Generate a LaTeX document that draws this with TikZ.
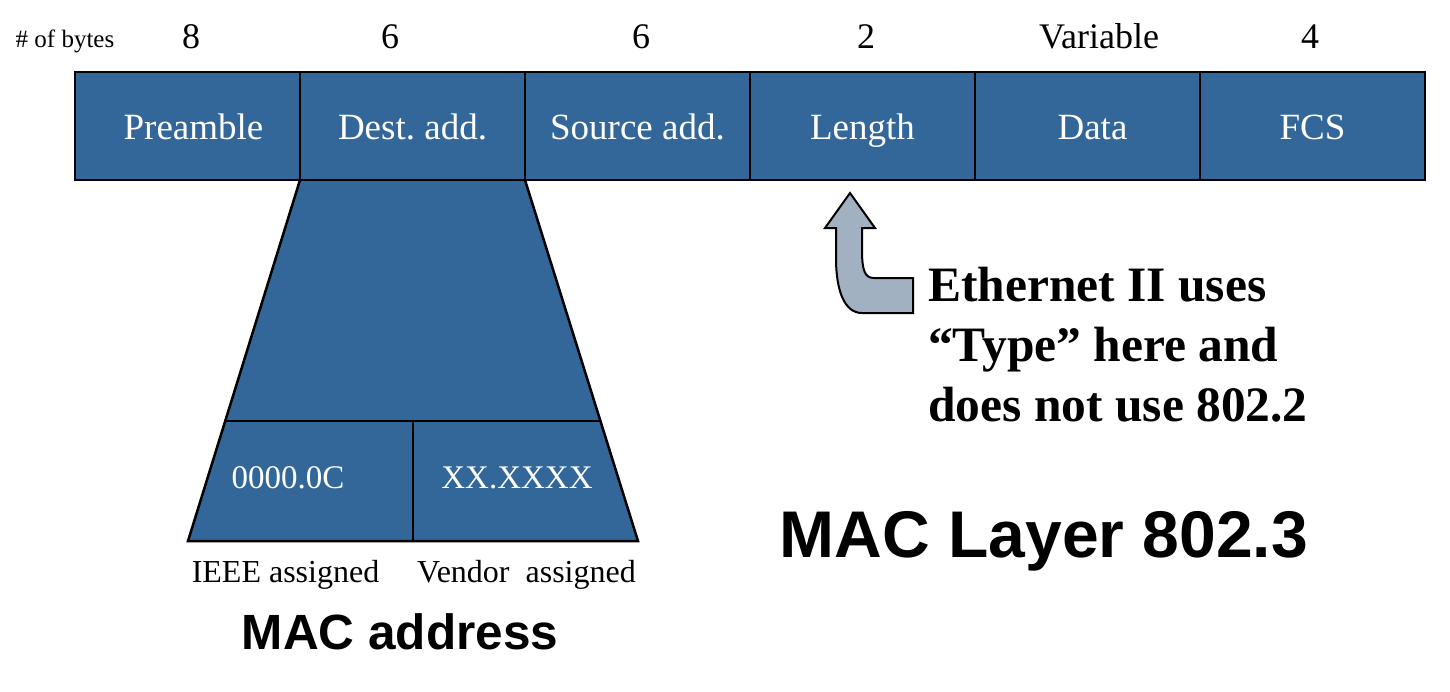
\documentclass[tikz,border=0pt]{standalone}
\usepackage{fontspec}
\setmainfont{Liberation Serif}
\newfontfamily\arialfont{Liberation Sans}
\frenchspacing
\definecolor{fieldblue}{RGB}{51,102,153}
\definecolor{arrowgrey}{RGB}{161,177,194}
\tikzset{
  field/.style={draw=black, line width=2.5pt, fill=fieldblue, text=white,
    minimum width=225pt, minimum height=108pt, inner sep=0pt,
    text height=30pt, text depth=4pt,
    font=\fontsize{37}{44}\selectfont},
  bytecount/.style={anchor=base, inner sep=0pt, font=\fontsize{36}{43}\selectfont},
  cellval/.style={anchor=base, inner sep=0pt, text=white, font=\fontsize{33}{39}\selectfont},
  sublabel/.style={anchor=base, inner sep=0pt, font=\fontsize{32}{38}\selectfont},
  notetext/.style={anchor=base west, inner sep=0pt, font=\fontsize{49.5}{59}\selectfont\bfseries},
  bigtitle/.style={anchor=base, inner sep=0pt, font=\arialfont\bfseries\fontsize{66}{78}\selectfont},
  midtitle/.style={anchor=base, inner sep=0pt, font=\arialfont\bfseries\fontsize{49.5}{59}\selectfont},
  outline/.style={draw=black, line width=2.5pt},
}
\begin{document}
\begin{tikzpicture}[x=1pt, y=-1pt]
\useasboundingbox (0,0) rectangle (1450,691);

% byte counts
\node[anchor=base, inner sep=0pt, font=\fontsize{25}{30}\selectfont] (nb) at (65,47) {\# of bytes};
\node[bytecount] (b1) at (191,48) {8};
\node[bytecount] (b2) at (390,48) {6};
\node[bytecount] (b3) at (641,48) {6};
\node[bytecount] (b4) at (866,48) {2};
\node[bytecount] (b5) at (1099,48) {Variable};
\node[bytecount] (b6) at (1310,48) {4};

% trapezoid (drawn first so the frame lies on top)
\coordinate (tl) at (300,180);
\coordinate (tr) at (525,180);
\coordinate (bl) at (188,541);
\coordinate (br) at (638,541);
\coordinate (ml) at (225.2,421);
\coordinate (mr) at (600.4,421);
\coordinate (mm) at (413,421);
\coordinate (bm) at (413,541);
\fill[fieldblue] (tl) -- (bl) -- (br) -- (tr) -- cycle;
\draw[outline, line join=miter] (tl) -- (bl) -- (br) -- (tr);
\draw[outline] (ml) -- (mr);
\draw[outline] (mm) -- (bm);

% frame fields
\node[field] (pre) at (187.5,126) {\hspace*{12pt}Preamble};
\node[field] (dst) at (412.5,126) {Dest. add.};
\node[field] (src) at (637.5,126) {Source add.};
\node[field] (len) at (862.5,126) {Length};
\node[field] (dat) at (1087.5,126) {\hspace*{10pt}Data};
\node[field] (fcs) at (1312.5,126) {FCS};

% MAC address cells
\node[cellval] (ieee) at (288,488) {0000.0C};
\node[cellval] (vend) at (517,488) {XX.XXXX};
\node[sublabel] (ieeel) at (285.5,582) {IEEE assigned};
\node[sublabel] (vendl) at (526.5,582) {Vendor~~assigned};
\node[midtitle] (macaddr) at (400,649) {MAC address};

% bent arrow
\coordinate (atip) at (850,193);
\draw[line width=2pt, fill=arrowgrey, line join=miter]
  (atip) -- (875,228) -- (862,228) -- (862,250)
  .. controls (862,271) and (865,278) .. (874,278)
  -- (913,278) -- (913,313) -- (862,313)
  .. controls (845,313) and (836,292) .. (836,258)
  -- (836,228) -- (825,228) -- cycle;

% note text
\node[notetext] (eth1) at (928,301) {Ethernet II uses};
\node[notetext] (eth2) at (928,361) {“Type” here and};
\node[notetext] (eth3) at (928,421) {does not use 802.2};

\node[bigtitle] (maclayer) at (1044,557) {MAC Layer 802.3};
\end{tikzpicture}
\end{document}
